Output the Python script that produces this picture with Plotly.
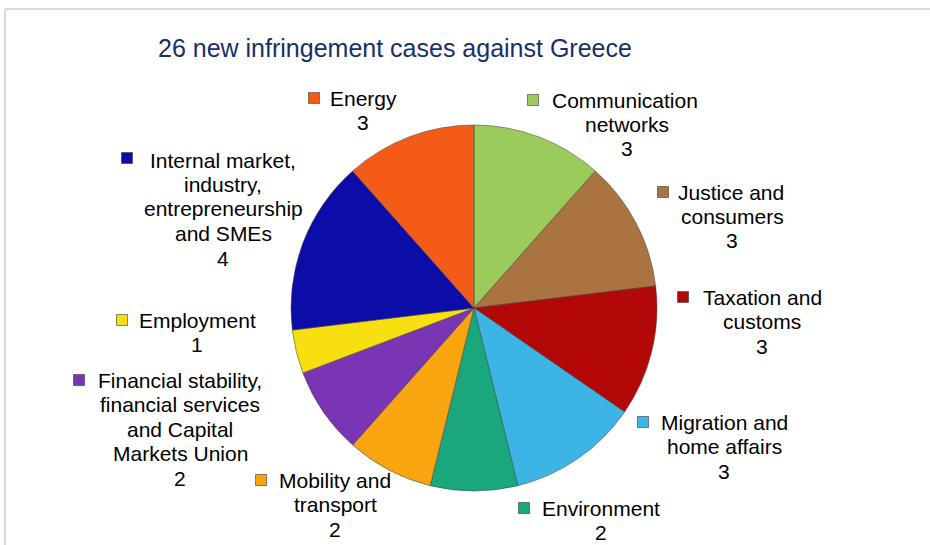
import plotly.graph_objects as go

# ---------------- data ----------------
categories = [
    "Communication networks",
    "Justice and consumers",
    "Taxation and customs",
    "Migration and home affairs",
    "Environment",
    "Mobility and transport",
    "Financial stability, financial services and Capital Markets Union",
    "Employment",
    "Internal market, industry, entrepreneurship and SMEs",
    "Energy",
]
cases = [3, 3, 3, 3, 2, 2, 2, 1, 4, 3]
label_lines = [
    ["Communication", "networks"],
    ["Justice and", "consumers"],
    ["Taxation and", "customs"],
    ["Migration and", "home affairs"],
    ["Environment"],
    ["Mobility and", "transport"],
    ["Financial stability,", "financial services", "and Capital", "Markets Union"],
    ["Employment"],
    ["Internal market,", "industry,", "entrepreneurship", "and SMEs"],
    ["Energy"],
]
title_text = "26 new infringement cases against Greece"

# ---------------- styles / layout ----------------
colors = ["#9bcb5b", "#a9743f", "#b30808", "#3db4e6", "#19a87c",
          "#f8a50f", "#7a35b5", "#f7df10", "#0c0ca8", "#f45b17"]
W, H = 930, 545
# label layout: key centre (x,y), first-line centre x, block centre x, first-line y  (pixels)
label_layout = [
    (533, 100, 625, 627, 100),
    (663, 192, 731, 732, 192),
    (683, 297, 762, 762, 297),
    (643, 422, 724, 724, 422),
    (524, 508, 601, 601, 508),
    (261, 480, 335, 335, 480),
    (79, 380, 180, 180, 380),
    (122, 320, 197, 197, 320),
    (127, 158, 223, 223, 160),
    (314, 98, 363, 363, 98),
]
LINE_H = 24.5
FONT = "Liberation Sans, Arial, sans-serif"
FS = 21


def px(x):
    return x / W


def py(y):
    return 1 - y / H


fig = go.Figure(go.Pie(
    labels=categories,
    values=cases,
    sort=False,
    direction="clockwise",
    rotation=0,
    marker=dict(colors=colors, line=dict(color="rgba(70,70,70,0.55)", width=1)),
    textinfo="none",
    hoverinfo="label+value",
    showlegend=False,
    domain=dict(x=[px(291), px(657)], y=[py(491), py(125)]),
))

annotations = []
shapes = []
for lines, val, col, (kx, ky, x1, cx, y0) in zip(label_lines, cases, colors, label_layout):
    all_lines = lines + [str(val)]
    for i, t in enumerate(all_lines):
        annotations.append(dict(
            x=px(x1 if i == 0 else cx), y=py(y0 + i * LINE_H),
            xref="paper", yref="paper", text=t, showarrow=False,
            xanchor="center", yanchor="middle",
            font=dict(family=FONT, size=FS, color="#000000"),
        ))
    s = 5.5
    shapes.append(dict(
        type="rect", xref="paper", yref="paper",
        x0=px(kx - s), x1=px(kx + s), y0=py(ky + s), y1=py(ky - s),
        fillcolor=col, line=dict(color="rgba(60,60,60,0.6)", width=1),
    ))

annotations.append(dict(
    x=px(395), y=py(48), xref="paper", yref="paper", text=title_text,
    showarrow=False, xanchor="center", yanchor="middle",
    font=dict(family=FONT, size=25, color="#17306b"),
))

# chart frame lines
shapes.append(dict(type="line", xref="paper", yref="paper",
                   x0=px(5), x1=px(930), y0=py(9), y1=py(9),
                   line=dict(color="#dadada", width=2)))
shapes.append(dict(type="line", xref="paper", yref="paper",
                   x0=px(5), x1=px(5), y0=py(9), y1=py(545),
                   line=dict(color="#dadada", width=2)))

fig.update_layout(
    width=W, height=H,
    margin=dict(l=0, r=0, t=0, b=0),
    paper_bgcolor="white", plot_bgcolor="white",
    annotations=annotations, shapes=shapes,
)

fig.write_html(
    "out.html",
    config={"displayModeBar": False},
    post_script="document.body.style.margin='0px';document.body.style.overflow='hidden';",
)
